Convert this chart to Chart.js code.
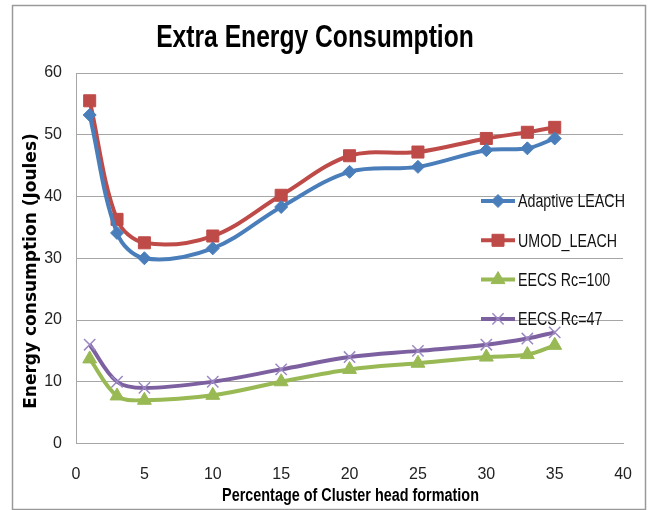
<!DOCTYPE html>
<html>
<head>
<meta charset="utf-8">
<script src="https://cdn.jsdelivr.net/npm/chart.js@4"></script>
<style>
  body { margin: 0; background: #fff; }
  #wrap { width: 653px; height: 510px; }
</style>
</head>
<body>
<div id="wrap"><canvas id="energyChart" width="653" height="510"></canvas></div>
<script>
// datos
const chPercent = [1, 3, 5, 10, 15, 20, 25, 30, 33, 35];
const seriesNames = ["Adaptive LEACH", "UMOD_LEACH", "EECS Rc=100", "EECS Rc=47"];
const adaptiveLeach = [53.2, 34.1, 30, 31.6, 38.3, 44, 44.8, 47.5, 47.8, 49.4];
const umodLeach = [55.5, 36.3, 32.5, 33.6, 40.2, 46.6, 47.2, 49.4, 50.4, 51.2];
const eecs100 = [13.7, 7.7, 7, 7.8, 10, 12, 13, 14, 14.4, 15.9];
const eecs47 = [16, 10, 9, 10, 12, 14, 15, 16, 17, 18];
const xTicks = [0, 5, 10, 15, 20, 25, 30, 35, 40];
const yTicks = [0, 10, 20, 30, 40, 50, 60];

const toPoints = (vals) => vals.map((v, i) => ({ x: chPercent[i], y: v }));

const ctx = document.getElementById("energyChart").getContext("2d");

// texto angosto (tipo Calibri) con escala horizontal
function narrowText(c, text, x, y, sx) {
  c.save();
  c.translate(x, y);
  c.scale(sx, 1);
  c.fillText(text, 0, 0);
  c.restore();
}

// marco, titulos y leyenda dibujados a mano
const decorations = {
  id: "decorations",
  beforeDraw(chart) {
    const c = chart.ctx;
    c.save();
    c.fillStyle = "#fff";
    c.fillRect(0, 0, chart.width, chart.height);
    c.strokeStyle = "#9a9a9a";
    c.lineWidth = 1.5;
    c.strokeRect(12.5, 5.5, 633, 504);
    c.restore();
  },
  afterDraw(chart) {
    const c = chart.ctx;
    c.save();
    c.fillStyle = "#000";
    c.textAlign = "center";
    c.textBaseline = "alphabetic";
    c.font = "bold 32px 'Liberation Sans', sans-serif";
    narrowText(c, "Extra Energy Consumption", 315, 47, 0.77);

    c.font = "bold 18px 'Liberation Sans', sans-serif";
    narrowText(c, "Percentage of Cluster head formation", 350.5, 501, 0.8);

    c.save();
    c.translate(36, 271);
    c.rotate(-Math.PI / 2);
    c.font = "bold 17px 'DejaVu Sans', sans-serif";
    c.fillText("Energy consumption (Joules)", 0, 0);
    c.restore();

    // leyenda
    chart.data.datasets.forEach((ds, i) => {
      const y = 201 + i * 39.3;
      c.strokeStyle = ds.borderColor;
      c.lineWidth = 4;
      c.beginPath();
      c.moveTo(481, y);
      c.lineTo(515, y);
      c.stroke();
      if (Chart.helpers && Chart.helpers.drawPoint) {
        c.fillStyle = ds.pointBackgroundColor;
        c.strokeStyle = ds.pointBorderColor;
        c.lineWidth = ds.pointBorderWidth;
        Chart.helpers.drawPoint(c, {
          pointStyle: ds.pointStyle,
          radius: ds.pointRadius,
          rotation: 0,
          borderWidth: ds.pointBorderWidth,
        }, 498, y);
      }
      c.fillStyle = "#111";
      c.textAlign = "left";
      c.textBaseline = "middle";
      c.font = "19px 'Liberation Sans', sans-serif";
      narrowText(c, ds.label, 518, y + 1, 0.75);
    });
    c.restore();
  },
};

new Chart(ctx, {
  type: "line",
  data: {
    datasets: [
      {
        label: seriesNames[0],
        data: toPoints(adaptiveLeach),
        borderColor: "#4A7EBB",
        pointBackgroundColor: "#4A7EBB",
        pointBorderColor: "#4A7EBB",
        pointBorderWidth: 1,
        pointStyle: "rectRot",
        pointRadius: 6.5,
      },
      {
        label: seriesNames[1],
        data: toPoints(umodLeach),
        borderColor: "#BE4B48",
        pointBackgroundColor: "#BE4B48",
        pointBorderColor: "#BE4B48",
        pointBorderWidth: 1,
        pointStyle: "rect",
        pointRadius: 8.5,
      },
      {
        label: seriesNames[2],
        data: toPoints(eecs100),
        borderColor: "#98B954",
        pointBackgroundColor: "#98B954",
        pointBorderColor: "#98B954",
        pointBorderWidth: 1,
        pointStyle: "triangle",
        pointRadius: 8,
      },
      {
        label: seriesNames[3],
        data: toPoints(eecs47),
        borderColor: "#7D60A0",
        pointBackgroundColor: "#9C88C2",
        pointBorderColor: "#9C88C2",
        pointBorderWidth: 1.5,
        pointStyle: "crossRot",
        pointRadius: 8,
      },
    ],
  },
  options: {
    responsive: false,
    animation: false,
    layout: { padding: { top: 73, right: 27, left: 0, bottom: 0 } },
    elements: {
      line: { borderWidth: 4, tension: 0.35, fill: false },
      point: { hoverRadius: 8 },
    },
    scales: {
      x: {
        type: "linear",
        min: 0,
        max: 40,
        afterBuildTicks: (s) => { s.ticks = xTicks.map((v) => ({ value: v })); },
        afterFit: (s) => { s.height = 66.5; },
        grid: { display: false, drawTicks: false },
        border: { display: true, color: "#a6a6a6", width: 1 },
        ticks: {
          padding: 21,
          color: "#222",
          font: { family: "'Liberation Sans', sans-serif", size: 16 },
        },
      },
      y: {
        min: 0,
        max: 60,
        afterBuildTicks: (s) => { s.ticks = yTicks.map((v) => ({ value: v })); },
        afterFit: (s) => { s.width = 76; },
        grid: { color: "#a6a6a6", lineWidth: 1, drawTicks: false },
        border: { display: true, color: "#a6a6a6", width: 1 },
        ticks: {
          padding: 14,
          color: "#222",
          font: { family: "'Liberation Sans', sans-serif", size: 16 },
        },
      },
    },
    plugins: {
      legend: { display: false },
      title: { display: false },
      tooltip: { enabled: false },
    },
  },
  plugins: [decorations],
});
</script>
</body>
</html>
